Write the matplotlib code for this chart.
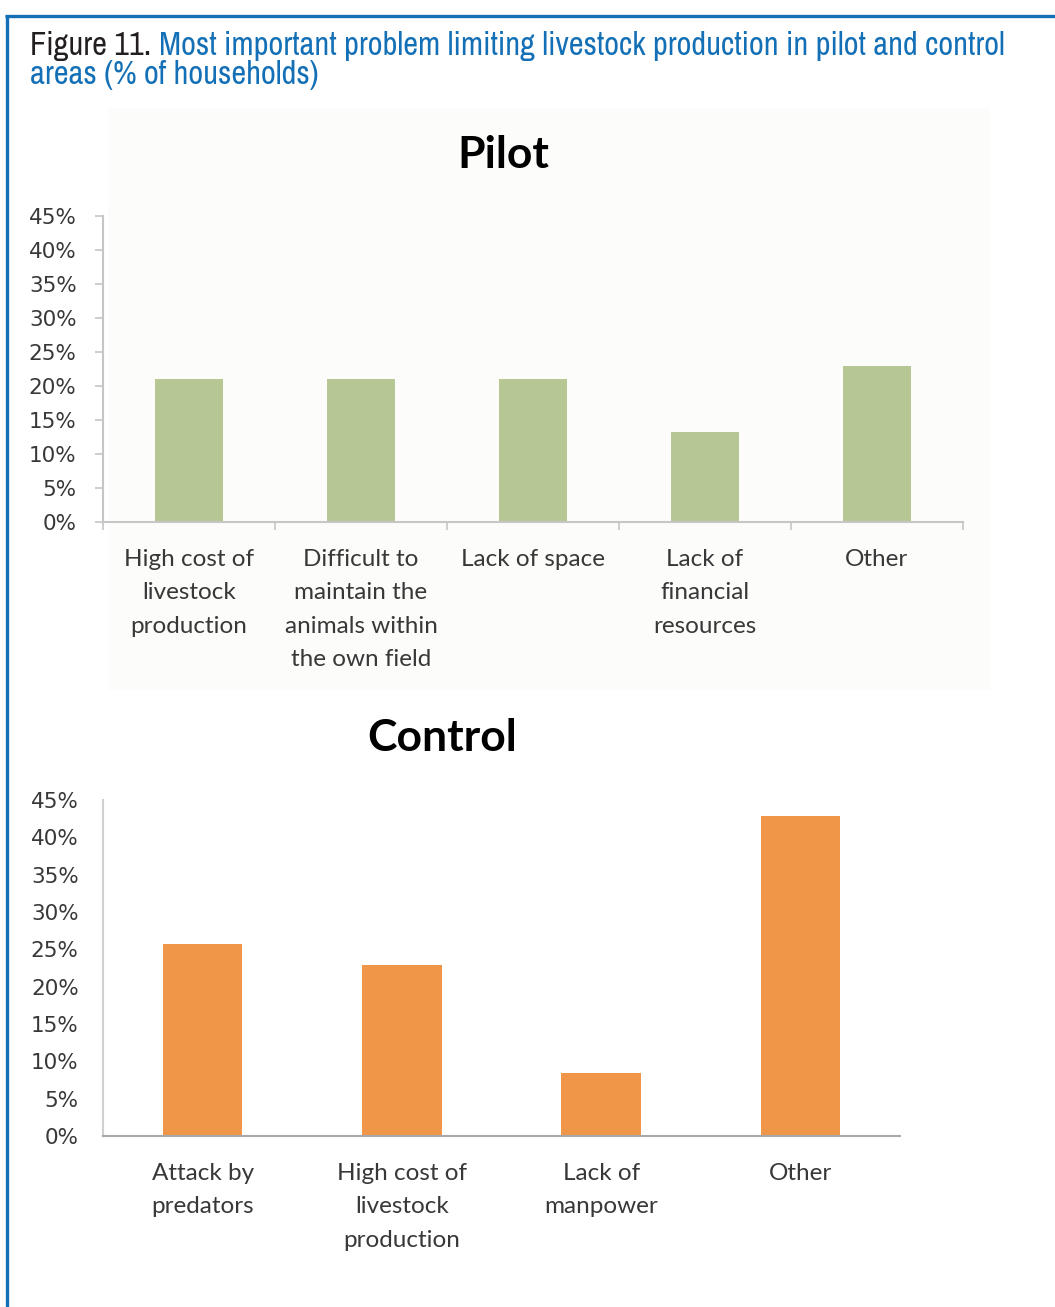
import matplotlib
matplotlib.use("Agg")
import matplotlib.pyplot as plt
from matplotlib import font_manager
from matplotlib.lines import Line2D
from matplotlib.patches import Rectangle
from matplotlib.ticker import FuncFormatter

W, H, DPI = 1055, 1307, 100

# ---- data -------------------------------------------------------------
pilot_categories = [
    "High cost of\nlivestock\nproduction",
    "Difficult to\nmaintain the\nanimals within\nthe own field",
    "Lack of space",
    "Lack of\nfinancial\nresources",
    "Other",
]
pilot_values = [21.0, 21.0, 21.0, 13.2, 22.9]

control_categories = [
    "Attack by\npredators",
    "High cost of\nlivestock\nproduction",
    "Lack of\nmanpower",
    "Other",
]
control_values = [25.7, 22.9, 8.5, 42.9]

y_ticks = [0, 5, 10, 15, 20, 25, 30, 35, 40, 45]

caption_label = "Figure 11. "
caption_line1 = "Most important problem limiting livestock production in pilot and control"
caption_line2 = "areas (% of households)"

# ---- styling ----------------------------------------------------------
BLUE = "#1470b6"
DARK = "#231f20"
GREEN = "#b6c793"
ORANGE = "#ef9649"
TICK_TXT = "#383838"
CAT_FONT = ["Lato", "DejaVu Sans"]
NUM_FONT = ["DejaVu Sans"]

# a narrow face for the caption, if one is installed
installed = sorted({f.name for f in font_manager.fontManager.ttflist})
narrow = [n for n in installed if "Narrow" in n or "Condensed" in n]
CAP_FONT = narrow[:1] + ["Liberation Sans", "DejaVu Sans"]

fig = plt.figure(figsize=(W / DPI, H / DPI), dpi=DPI)
fig.patch.set_facecolor("white")


def fx(x):
    return x / W


def fy(y):
    return 1 - y / H


def px_axes(left, top, right, bottom):
    return fig.add_axes([fx(left), fy(bottom), (right - left) / W, (bottom - top) / H])


# ---- frame ------------------------------------------------------------
fig.add_artist(Line2D([fx(5), fx(1055)], [fy(16), fy(16)], color=BLUE, lw=2.4,
                      solid_capstyle="butt"))
fig.add_artist(Line2D([fx(6.5), fx(6.5)], [fy(15), fy(1307)], color=BLUE, lw=2.4,
                      solid_capstyle="butt"))

# faint panel behind the pilot chart
fig.add_artist(Rectangle((fx(108), fy(690)), (990 - 108) / W, (690 - 108) / H,
                         transform=fig.transFigure, facecolor="#fcfcfb",
                         edgecolor="none", zorder=0))

# ---- caption ----------------------------------------------------------
renderer = fig.canvas.get_renderer()
cap_size = 21
probe = fig.text(0, 0, caption_label + caption_line1, fontsize=cap_size, family=CAP_FONT)
w = probe.get_window_extent(renderer).width
probe.remove()
cap_size = min(cap_size * (1003 - 30) / w, 24)

t0 = fig.text(fx(30), fy(55), caption_label, fontsize=cap_size, family=CAP_FONT,
              color=DARK, va="baseline", ha="left")
w0 = t0.get_window_extent(renderer).width
fig.text(fx(30 + w0), fy(55), caption_line1, fontsize=cap_size, family=CAP_FONT,
         color=BLUE, va="baseline", ha="left")
fig.text(fx(30), fy(84), caption_line2, fontsize=cap_size, family=CAP_FONT,
         color=BLUE, va="baseline", ha="left")

pct = FuncFormatter(lambda v, _: f"{v:.0f}%")


def style_axes(ax, n, spine_color, boundary_ticks):
    ax.set_facecolor("none")
    ax.set_xlim(0, n)
    ax.set_ylim(0, 45)
    for s in ("top", "right"):
        ax.spines[s].set_visible(False)
    for s in ("left", "bottom"):
        ax.spines[s].set_color(spine_color)
        ax.spines[s].set_linewidth(1.5)
    ax.set_yticks(y_ticks)
    ax.yaxis.set_major_formatter(pct)
    for lbl in ax.get_yticklabels():
        lbl.set_family(NUM_FONT)
    ax.tick_params(axis="y", labelsize=15.5, labelcolor=TICK_TXT, color=spine_color,
                   length=6 if boundary_ticks else 0, width=1.2,
                   pad=13 if boundary_ticks else 17.5)
    ax.tick_params(axis="x", which="major", length=0, pad=19.5)
    if boundary_ticks:
        ax.set_xticks(range(n + 1), minor=True)
        ax.tick_params(axis="x", which="minor", length=6, width=1.2, color=spine_color)


def style_categories(ax):
    for lbl in ax.get_xticklabels():
        lbl.set_family(CAT_FONT)
        lbl.set_fontsize(17.5)
        lbl.set_color(TICK_TXT)
        lbl.set_linespacing(1.72)


# ---- pilot chart -------------------------------------------------------
ax1 = px_axes(103, 216, 963, 522)
pos1 = [i + 0.5 for i in range(len(pilot_values))]
ax1.bar(pos1, pilot_values, width=0.40, color=GREEN, zorder=2)
ax1.set_xticks(pos1, pilot_categories)
style_axes(ax1, len(pilot_values), "#c6c6c6", True)
style_categories(ax1)
fig.text(fx(503), fy(155), "Pilot", family=CAT_FONT, fontweight="bold", fontsize=32,
         color="black", ha="center", va="center")

# ---- control chart -----------------------------------------------------
ax2 = px_axes(103, 800, 900, 1136)
pos2 = [i + 0.5 for i in range(len(control_values))]
ax2.bar(pos2, control_values, width=0.40, color=ORANGE, zorder=2)
ax2.set_xticks(pos2, control_categories)
style_axes(ax2, len(control_values), "#a8a8a8", False)
ax2.spines["left"].set_color("#d0d0d0")
style_categories(ax2)
fig.text(fx(442), fy(738), "Control", family=CAT_FONT, fontweight="bold", fontsize=32,
         color="black", ha="center", va="center")

fig.savefig("out.png", dpi=DPI)
